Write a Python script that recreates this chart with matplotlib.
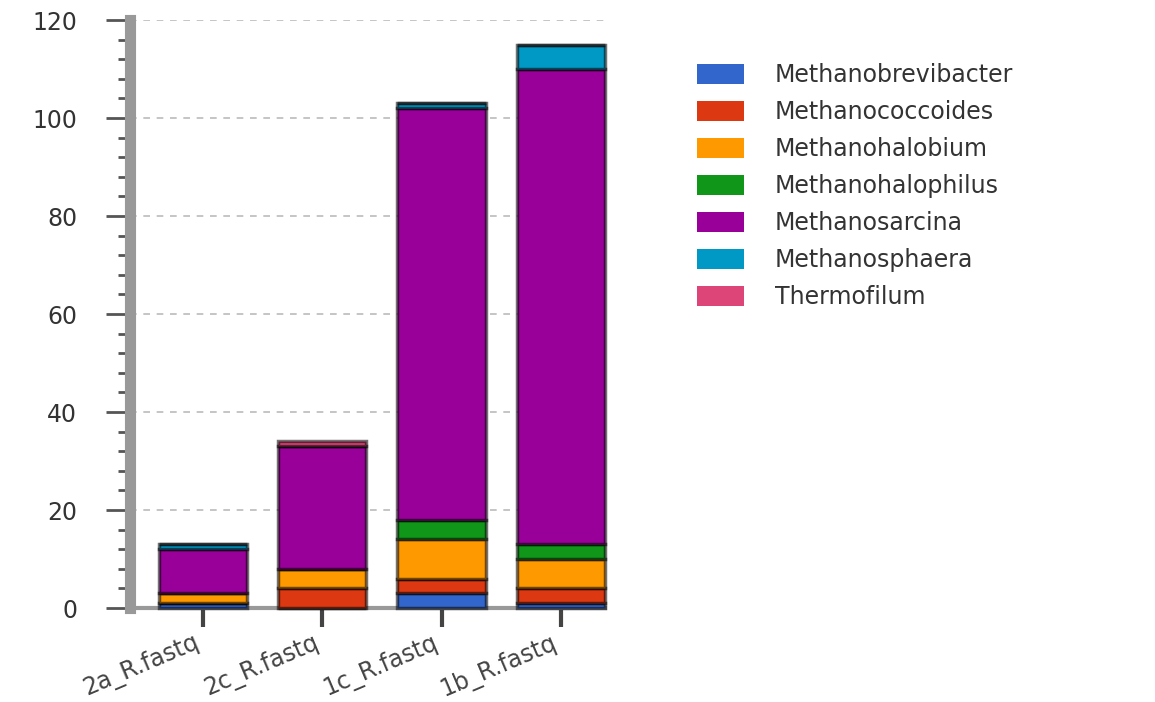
import numpy as np
import matplotlib
matplotlib.use('Agg')
import matplotlib.pyplot as plt
from matplotlib.ticker import MultipleLocator

# datos
muestras = ['2a_R.fastq', '2c_R.fastq', '1c_R.fastq', '1b_R.fastq']
generos = ['Methanobrevibacter', 'Methanococcoides', 'Methanohalobium',
           'Methanohalophilus', 'Methanosarcina', 'Methanosphaera', 'Thermofilum']
methanobrevibacter = [1, 0, 3, 1]
methanococcoides = [0, 4, 3, 3]
methanohalobium = [2, 4, 8, 6]
methanohalophilus = [0, 0, 4, 3]
methanosarcina = [9, 25, 84, 97]
methanosphaera = [1, 0, 1, 5]
thermofilum = [0, 1, 0, 0]

series = [methanobrevibacter, methanococcoides, methanohalobium,
          methanohalophilus, methanosarcina, methanosphaera, thermofilum]
colores = ['#3366cc', '#dc3912', '#ff9900', '#109618', '#990099', '#0099c6', '#dd4477']

fig = plt.figure(figsize=(11.55, 7.02), dpi=100)
ax = fig.add_axes([0.1126, 0.1339, 0.4113, 0.8376])

x = np.arange(len(muestras))
base = np.zeros(len(muestras))
handles = []
for nombre, vals, col in zip(generos, series, colores):
    vals = np.array(vals, dtype=float)
    b = ax.bar(x, vals, bottom=base, width=0.74, color=col,
               edgecolor=(0, 0, 0, 0.55), linewidth=2.5, label=nombre,
               clip_on=False, zorder=3)
    handles.append(b)
    base += vals

ax.set_xlim(-0.61, 3.37)
ax.set_ylim(0, 120)
ax.yaxis.set_major_locator(MultipleLocator(20))
ax.yaxis.set_minor_locator(MultipleLocator(4))
ax.grid(axis='y', which='major', linestyle=(0, (4, 4)), color='#bbbbbb', linewidth=1.2, zorder=0)

for s in ['top', 'right']:
    ax.spines[s].set_visible(False)
ax.spines['left'].set_color('#999999')
ax.spines['left'].set_linewidth(8)
ax.spines['bottom'].set_color('#999999')
ax.spines['bottom'].set_linewidth(3)

ax.tick_params(axis='y', which='major', length=17, width=2, color='#555555',
               labelsize=17, pad=21, labelcolor='#333333')
ax.tick_params(axis='y', which='minor', length=9, width=2, color='#555555')
ax.tick_params(axis='x', length=14, width=3, color='#444444', labelsize=17,
               pad=2, labelcolor='#444444')
ax.set_xticks(x)
ax.set_xticklabels(muestras, rotation=23, ha='right')

leg = fig.legend(handles=handles, labels=generos, loc='upper left',
                 bbox_to_anchor=(0.585, 0.94), frameon=False, fontsize=17,
                 handlelength=2.0, handleheight=0.9, handletextpad=1.3,
                 labelspacing=0.55)
for p in leg.get_patches():
    p.set_edgecolor('none')
for t in leg.get_texts():
    t.set_color('#333333')

fig.savefig('out.png', dpi=100)
